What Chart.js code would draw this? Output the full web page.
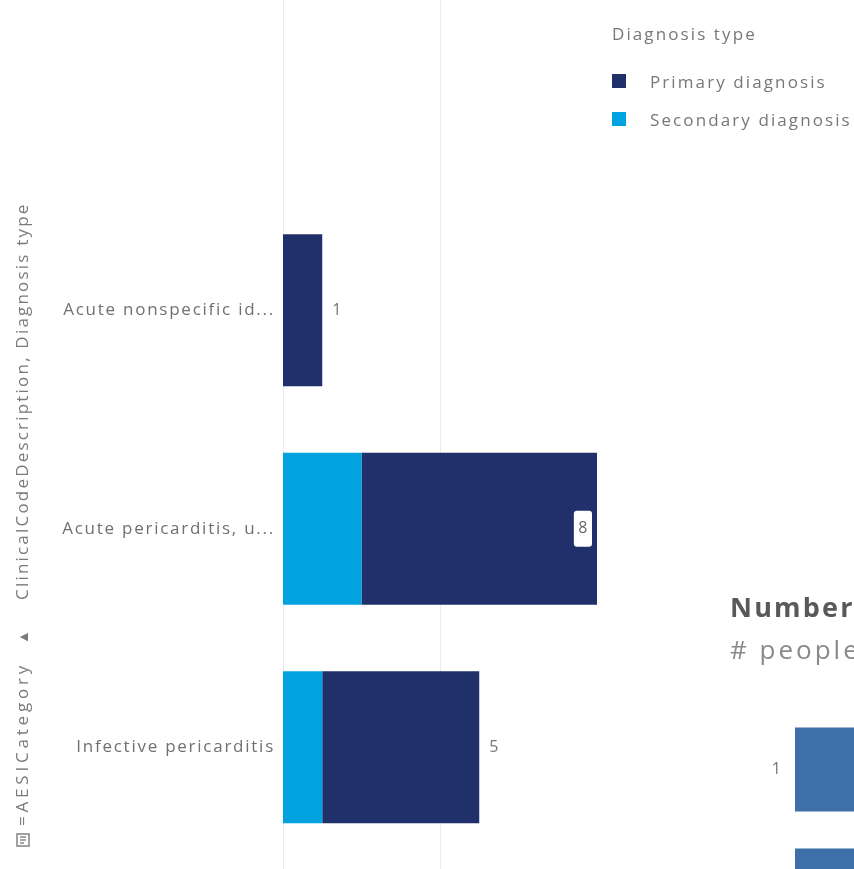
<!DOCTYPE html>
<html>
<head>
<meta charset="utf-8">
<script src="https://cdn.jsdelivr.net/npm/chart.js@4.4.1/dist/chart.umd.min.js"></script>
<style>
  html, body { margin: 0; padding: 0; width: 854px; height: 869px; overflow: hidden; background: #fff; }
  body { position: relative; font-family: "Open Sans", sans-serif; color: #666; }
  #mainWrap { position: absolute; left: 0; top: 0; width: 854px; height: 900px; }
  .vtext { position: absolute; transform-origin: 0 0; transform: rotate(-90deg); white-space: nowrap;
           font-size: 17px; line-height: 20px; color: #7a7a7a; letter-spacing: 2.2px; }
  #legend { position: absolute; left: 612px; top: 22px; font-size: 17px; color: #777; letter-spacing: 2.1px; white-space: nowrap; }
  #legend .ttl { height: 24px; line-height: 24px; margin-bottom: 16px; }
  #legend .item { display: flex; align-items: center; height: 38px; }
  #legend .sw { width: 14px; height: 14px; margin-right: 24px; flex: none; }
  #sideWrap { position: absolute; left: 720px; top: 679px; width: 500px; height: 302px; }
  #sideTitle { position: absolute; left: 730px; top: 588px; font-size: 27px; font-weight: bold; color: #595959; white-space: nowrap; letter-spacing: 2.2px; }
  #sideSub { position: absolute; left: 730px; top: 631px; font-size: 26px; color: #8a8a8a; white-space: nowrap; letter-spacing: 3px; }
</style>
</head>
<body>
<div id="mainWrap"><canvas id="main" width="854" height="900"></canvas></div>

<div class="vtext" style="left:12px; top:600px;">ClinicalCodeDescription, Diagnosis type</div>
<div class="vtext" style="left:13px; top:644px; font-size:14px; letter-spacing:0;">▲</div>
<div class="vtext" style="left:12px; top:826px; letter-spacing:3.8px;">=AESICategory</div>
<svg style="position:absolute; left:15px; top:832px;" width="16" height="16" viewBox="0 0 16 16">
  <rect x="2" y="2" width="12" height="12" fill="none" stroke="#8a8a8a" stroke-width="1.6"/>
  <path d="M5 5 L11 5 M5 8 L11 8 M5 11 L9 11" stroke="#8a8a8a" stroke-width="1.6"/>
</svg>

<div id="legend"></div>

<div id="sideTitle">Number of diagnoses per person</div>
<div id="sideSub"># people</div>
<div id="sideWrap"><canvas id="side" width="500" height="302"></canvas></div>

<script>
// Stacked bars: diagnoses per clinical code description
const categories = ["Acute nonspecific id...", "Acute pericarditis, u...", "Infective pericarditis"];
const secondaryCounts = [0, 2, 1];
const primaryCounts = [1, 6, 4];
const seriesNames = ["Primary diagnosis", "Secondary diagnosis"];
const seriesColors = ["#20306a", "#00a3e0"];
const legendTitle = "Diagnosis type";
const xGridValues = [0, 4];

// Small side chart: people by number of diagnoses
const sideCategories = ["1", "2"];
const sidePeople = [12, 5];
const sideColor = "#3e6fa8";

const totals = categories.map((_, i) => primaryCounts[i] + secondaryCounts[i]);

// Legend
const legendEl = document.getElementById("legend");
const ttl = document.createElement("div");
ttl.className = "ttl";
ttl.textContent = legendTitle;
legendEl.appendChild(ttl);
seriesNames.forEach((name, i) => {
  const row = document.createElement("div");
  row.className = "item";
  const sw = document.createElement("span");
  sw.className = "sw";
  sw.style.background = seriesColors[i];
  const lb = document.createElement("span");
  lb.textContent = name;
  row.appendChild(sw);
  row.appendChild(lb);
  legendEl.appendChild(row);
});

// Wider letter spacing for the axis text
const letterSpacing = {
  id: "letterSpacing",
  beforeDraw(chart, args, opts) {
    chart.ctx.letterSpacing = opts.value || "0px";
  }
};

// Vertical grid lines running the full height of the panel
const fullHeightGrid = {
  id: "fullHeightGrid",
  beforeDatasetsDraw(chart) {
    const { ctx } = chart;
    const xs = chart.scales.x;
    ctx.save();
    ctx.strokeStyle = "#ececec";
    ctx.lineWidth = 1;
    xGridValues.forEach(v => {
      const px = Math.round(xs.getPixelForValue(v)) + 0.5;
      ctx.beginPath();
      ctx.moveTo(px, 0);
      ctx.lineTo(px, chart.height);
      ctx.stroke();
    });
    ctx.restore();
  }
};

// Total labels at the end of each stack; inside a white box when there is no room outside
const stackTotals = {
  id: "stackTotals",
  afterDatasetsDraw(chart) {
    const { ctx, chartArea } = chart;
    const xs = chart.scales.x;
    const meta = chart.getDatasetMeta(1);
    ctx.save();
    ctx.letterSpacing = "0px";
    ctx.font = '16px "Open Sans", sans-serif';
    ctx.textBaseline = "middle";
    meta.data.forEach((bar, i) => {
      const text = String(totals[i]);
      const x = xs.getPixelForValue(totals[i]);
      const y = bar.y;
      const w = ctx.measureText(text).width;
      if (x + 10 + w > chartArea.right) {
        const bw = w + 9, bh = 36;
        const bx = x - 5 - bw;
        ctx.fillStyle = "#ffffff";
        ctx.beginPath();
        ctx.roundRect(bx, y - bh / 2, bw, bh, 3);
        ctx.fill();
        ctx.fillStyle = "#666";
        ctx.textAlign = "center";
        ctx.fillText(text, bx + bw / 2, y);
      } else {
        ctx.fillStyle = "#777";
        ctx.textAlign = "left";
        ctx.fillText(text, x + 10, y);
      }
    });
    ctx.restore();
  }
};

new Chart(document.getElementById("main"), {
  type: "bar",
  data: {
    labels: categories,
    datasets: [
      { label: seriesNames[1], data: secondaryCounts, backgroundColor: seriesColors[1], borderWidth: 0 },
      { label: seriesNames[0], data: primaryCounts, backgroundColor: seriesColors[0], borderWidth: 0 }
    ]
  },
  options: {
    indexAxis: "y",
    responsive: false,
    animation: false,
    layout: { padding: { left: 0, right: 257, top: 201, bottom: 43.5 } },
    plugins: { legend: { display: false }, tooltip: { enabled: false }, letterSpacing: { value: "1.75px" } },
    datasets: { bar: { categoryPercentage: 1, barPercentage: 0.696 } },
    scales: {
      x: { display: false, stacked: true, min: 0, max: 8 },
      y: {
        stacked: true,
        grid: { display: false, drawTicks: false },
        border: { display: false },
        ticks: { padding: 8, color: "#707070", font: { family: "Open Sans", size: 17 } },
        afterFit(s) { s.width = 283; }
      }
    }
  },
  plugins: [letterSpacing, fullHeightGrid, stackTotals]
});

new Chart(document.getElementById("side"), {
  type: "bar",
  data: {
    labels: sideCategories,
    datasets: [{ data: sidePeople, backgroundColor: sideColor, borderWidth: 0 }]
  },
  options: {
    indexAxis: "y",
    responsive: false,
    animation: false,
    layout: { padding: { left: 0, right: 0, top: 30, bottom: 30 } },
    plugins: { legend: { display: false }, tooltip: { enabled: false } },
    datasets: { bar: { categoryPercentage: 1, barPercentage: 0.694 } },
    scales: {
      x: { display: false, min: 0, max: 14 },
      y: {
        grid: { display: false, drawTicks: false },
        border: { display: false },
        ticks: { padding: 14, color: "#777", font: { family: "Open Sans", size: 16 } },
        afterFit(s) { s.width = 75; }
      }
    }
  }
});
</script>
</body>
</html>
